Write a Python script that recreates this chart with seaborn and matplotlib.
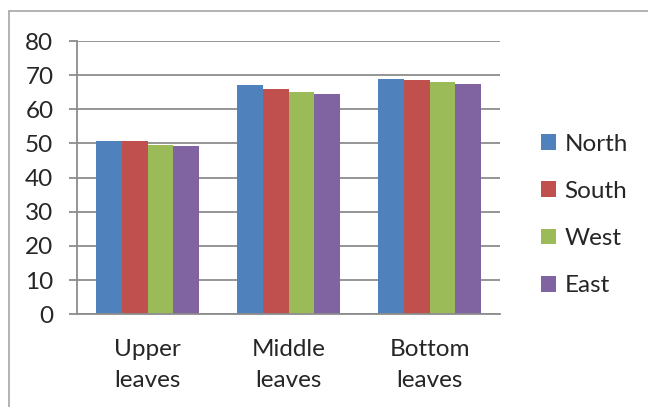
import matplotlib
matplotlib.use("Agg")
import matplotlib.pyplot as plt
from matplotlib.lines import Line2D
import pandas as pd
import seaborn as sns

# Leaf position categories and measured values per side
positions = ["Upper\nleaves", "Middle\nleaves", "Bottom\nleaves"]
sides = ["North", "South", "West", "East"]
north = [50.7, 67.1, 69.0]
south = [50.6, 65.9, 68.5]
west = [49.7, 65.2, 67.9]
east = [49.2, 64.4, 67.4]
y_ticks = [0, 10, 20, 30, 40, 50, 60, 70, 80]
colors = ["#4F81BD", "#C0504D", "#9BBB59", "#8064A2"]

series = {"North": north, "South": south, "West": west, "East": east}
df = pd.DataFrame(
    [(p, s, series[s][i]) for i, p in enumerate(positions) for s in sides],
    columns=["position", "side", "value"],
)

sns.set_style("white")
plt.rcParams["font.family"] = ["Lato", "DejaVu Sans"]
grid_gray = "#8c8c8c"
fs = 17.5

fig = plt.figure(figsize=(6.48, 4.07), dpi=100)
ax = fig.add_axes([77 / 648, 1 - 314.3 / 407, 423 / 648, (314.3 - 41) / 407])

sns.barplot(
    data=df, x="position", y="value", hue="side", order=positions,
    hue_order=sides, palette=colors, saturation=1, width=0.73,
    gap=0, linewidth=0, ax=ax, legend=True,
)

ax.set_xlim(-0.5, 2.5)
ax.set_ylim(0, 80)
ax.set_yticks(y_ticks)
ax.set_yticklabels([str(v) for v in y_ticks])
ax.set_xlabel("")
ax.set_ylabel("")

# Horizontal gridlines
ax.set_axisbelow(True)
ax.yaxis.grid(True, color=grid_gray, linewidth=1.3)
ax.xaxis.grid(False)

for side in ["top", "right"]:
    ax.spines[side].set_visible(False)
for side in ["left", "bottom"]:
    ax.spines[side].set_color(grid_gray)
    ax.spines[side].set_linewidth(1.3)

# Category labels without tick marks; tick marks at category boundaries
ax.set_xticks([0, 1, 2])
ax.set_xticklabels(positions, fontsize=fs, linespacing=1.55)
ax.tick_params(axis="x", which="major", length=0, pad=18)
ax.set_xticks([-0.5, 0.5, 1.5, 2.5], minor=True)
ax.tick_params(axis="x", which="minor", length=6, width=1.3, color=grid_gray, direction="out")
ax.tick_params(axis="y", length=6, width=1.3, color=grid_gray, direction="out",
               labelsize=fs, pad=11, left=True)

# Legend with square swatches at the right
handles, labels = ax.get_legend_handles_labels()
ax.legend(
    handles, labels, loc="center left", bbox_to_anchor=(541 / 648, 1 - 215 / 407),
    bbox_transform=fig.transFigure, frameon=False, fontsize=fs,
    handlelength=0.62, handleheight=0.62, handletextpad=0.35,
    labelspacing=1.08, borderpad=0, borderaxespad=0,
)

# Chart area border
border = "#a6a6a6"
fig.add_artist(Line2D([8.5 / 648, 8.5 / 648], [0, 1 - 11 / 407], transform=fig.transFigure,
                      color=border, linewidth=1.2))
fig.add_artist(Line2D([8.5 / 648, 1], [1 - 11 / 407, 1 - 11 / 407], transform=fig.transFigure,
                      color=border, linewidth=1.2))

fig.savefig("out.png", dpi=100)
